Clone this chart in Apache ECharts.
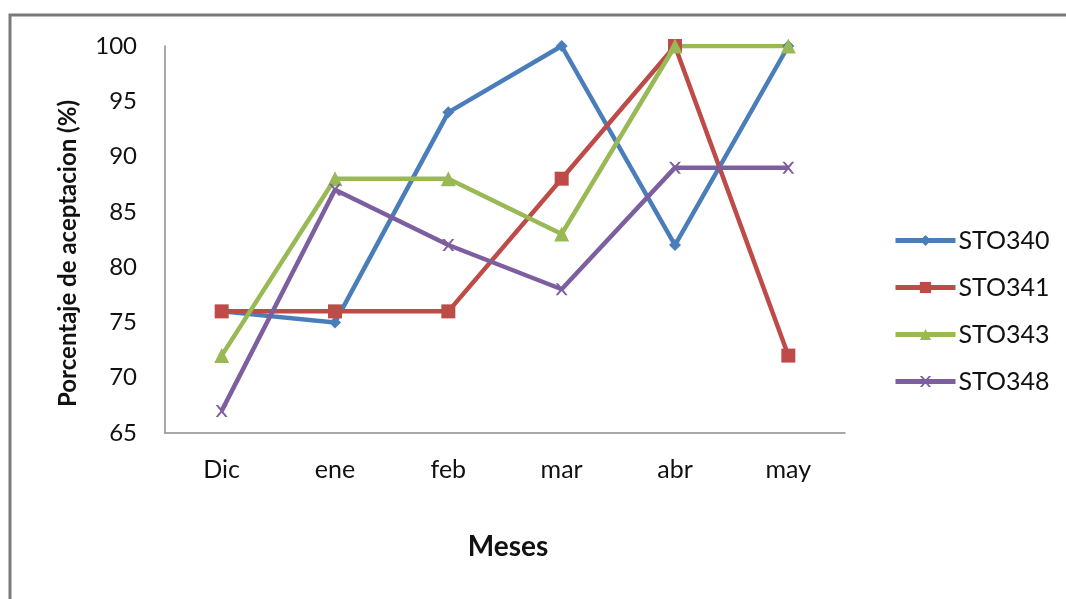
<!DOCTYPE html>
<html>
<head>
<meta charset="utf-8">
<script src="https://cdn.jsdelivr.net/npm/echarts@6/dist/echarts.min.js"></script>
<style>
  html, body { margin: 0; padding: 0; background: #fff; }
  #chart { width: 1066px; height: 599px; }
</style>
</head>
<body>
<div id="chart"></div>
<script>
// Monthly acceptance percentage per line
const months = ['Dic', 'ene', 'feb', 'mar', 'abr', 'may'];
const sto340 = [76, 75, 94, 100, 82, 100];
const sto341 = [76, 76, 76, 88, 100, 72];
const sto343 = [72, 88, 88, 83, 100, 100];
const sto348 = [67, 87, 82, 78, 89, 89];
const yTicks = [65, 70, 75, 80, 85, 90, 95, 100];

const FONT = 'Lato, "Open Sans", sans-serif';

const chart = echarts.init(document.getElementById('chart'), null, { renderer: 'canvas' });

function line(name, data, color, symbol, size) {
  return {
    name, type: 'line', data,
    symbol, symbolSize: size,
    showSymbol: true,
    lineStyle: { color, width: 4.5 },
    itemStyle: { color },
    emphasis: { disabled: true },
    animation: false
  };
}

chart.setOption({
  backgroundColor: '#fff',
  animation: false,
  graphic: [{
    type: 'rect',
    shape: { x: 10, y: 15, width: 1200, height: 800 },
    style: { fill: 'none', stroke: '#7a7a7a', lineWidth: 3 },
    silent: true
  }],
  grid: { left: 165, top: 46, width: 680, height: 387, containLabel: false },
  legend: {
    orient: 'vertical',
    left: 888, top: 223,
    itemGap: 22,
    itemWidth: 60, itemHeight: 14,
    lineStyle: { width: 5 },
    textStyle: { fontFamily: FONT, fontSize: 25, color: '#111', padding: [0, 0, 0, -2] },
    data: ['STO340', 'STO341', 'STO343', 'STO348']
  },
  xAxis: {
    type: 'category',
    data: months,
    boundaryGap: true,
    name: 'Meses',
    nameLocation: 'middle',
    nameGap: 100,
    nameTextStyle: { fontFamily: FONT, fontSize: 28, fontWeight: 'bold', color: '#111', padding: [0, 0, 0, 6] },
    axisLine: { lineStyle: { color: '#8c8c8c', width: 1.5 } },
    axisTick: { show: false },
    axisLabel: { fontFamily: FONT, fontSize: 25, color: '#111', margin: 24 },
    splitLine: { show: false }
  },
  yAxis: {
    type: 'value',
    min: yTicks[0], max: yTicks[yTicks.length - 1], interval: 5,
    name: 'Porcentaje de aceptacion (%)',
    nameLocation: 'middle',
    nameGap: 85,
    nameRotate: 90,
    nameTextStyle: { fontFamily: FONT, fontSize: 24, fontWeight: 'bold', color: '#111', padding: [0, 28, 0, 0] },
    axisLine: { show: true, lineStyle: { color: '#8c8c8c', width: 1.5 } },
    axisTick: { show: false },
    axisLabel: { fontFamily: FONT, fontSize: 24, color: '#111', margin: 28 },
    splitLine: { show: false }
  },
  series: [
    line('STO340', sto340, '#4a7ebb', 'diamond', 12),
    line('STO341', sto341, '#be4b48', 'rect', 14),
    line('STO343', sto343, '#98b954', 'triangle', 15),
    line('STO348', sto348, '#7d5fa0', 'path://M0,0 L2,0 L5,3.5 L8,0 L10,0 L6,5 L10,10 L8,10 L5,6.5 L2,10 L0,10 L4,5 Z', 12)
  ]
});
</script>
</body>
</html>
